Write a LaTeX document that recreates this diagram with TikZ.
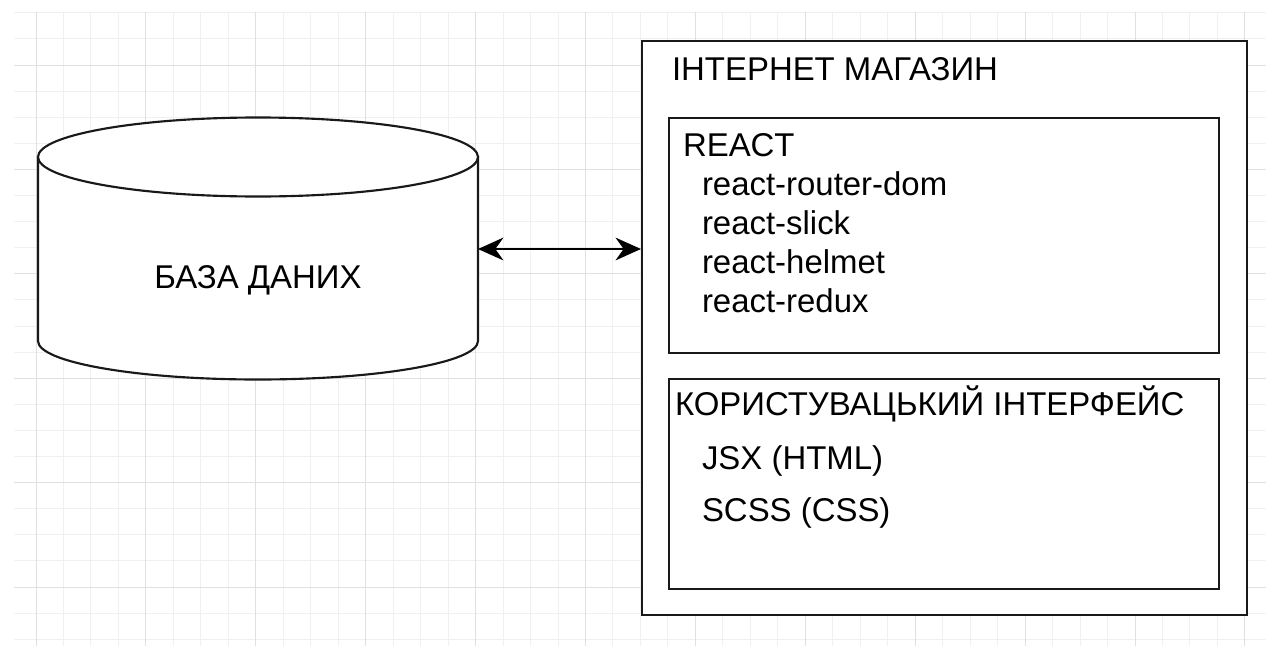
\documentclass[tikz,border=0pt]{standalone}
\usepackage{fontspec}
\setmainfont{Liberation Sans}
\usetikzlibrary{arrows.meta}

\tikzset{
  gridminor/.style={draw=black!6, line width=0.75pt},
  gridmajor/.style={draw=black!12, line width=0.75pt},
  frame/.style={draw=black!90, line width=1.6pt, fill=white},
  label/.style={anchor=base west, inner sep=0pt, outer sep=0pt,
    font=\fontsize{24.7pt}{29pt}\selectfont},
  link/.style={line width=1.8pt, {Stealth[length=19pt,width=17pt,inset=6pt]}-{Stealth[length=19pt,width=17pt,inset=6pt]}}
}

\begin{document}
\begin{tikzpicture}[x=0.75pt, y=-0.75pt]
\useasboundingbox (0,0) rectangle (1266,646);
\fill[white] (0,0) rectangle (1266,646);

% background grid
\begin{scope}
  \clip (14,12) rectangle (1266,646);
  \foreach \i in {0,...,44} {
    \pgfmathsetmacro{\gx}{36+27.475*\i}
    \draw[gridminor] (\gx,12) -- (\gx,646);
  }
  \foreach \j in {0,...,24} {
    \pgfmathsetmacro{\gy}{12.8+26.1*\j}
    \draw[gridminor] (14,\gy) -- (1266,\gy);
  }
  \foreach \i in {0,...,11} {
    \pgfmathsetmacro{\gx}{36+109.9*\i}
    \draw[gridmajor] (\gx,12) -- (\gx,646);
  }
  \foreach \j in {0,...,5} {
    \pgfmathsetmacro{\gy}{65+104.4*\j}
    \draw[gridmajor] (14,\gy) -- (1266,\gy);
  }
\end{scope}

% database cylinder
\coordinate (dbtop) at (258,157);
\path[frame] (38,157) -- (38,341) arc[start angle=180, end angle=0, x radius=220, y radius=38.5] -- (478,157) -- cycle;
\draw[frame] (dbtop) ellipse [x radius=220, y radius=39.5];
\node[label, anchor=base] (dbtext) at (258,288) {БАЗА ДАНИХ};

% shop container and its sections
\node[frame, minimum width=605pt*0.75, minimum height=574pt*0.75, inner sep=0pt] (shop) at (944.5,328) {};
\node[frame, minimum width=550pt*0.75, minimum height=235pt*0.75, inner sep=0pt] (react) at (944,235.5) {};
\node[frame, minimum width=550pt*0.75, minimum height=210pt*0.75, inner sep=0pt] (ui) at (944,484) {};

\node[label] (shoptitle) at (672,80) {ІНТЕРНЕТ МАГАЗИН};

\node[label] (reacttitle) at (683,156) {REACT};
\node[label] (lib1) at (702,195) {react-router-dom};
\node[label] (lib2) at (702,234) {react-slick};
\node[label] (lib3) at (702,273) {react-helmet};
\node[label] (lib4) at (702,312) {react-redux};

\node[label] (uititle) at (675,415) {КОРИСТУВАЦЬКИЙ ІНТЕРФЕЙС};
\node[label] (ui1) at (702,469) {JSX (HTML)};
\node[label] (ui2) at (702,521) {SCSS (CSS)};

% link between database and shop
\coordinate (dbright) at (478,249);
\draw[link] (dbright) -- (shop.west |- dbright);
\end{tikzpicture}
\end{document}
